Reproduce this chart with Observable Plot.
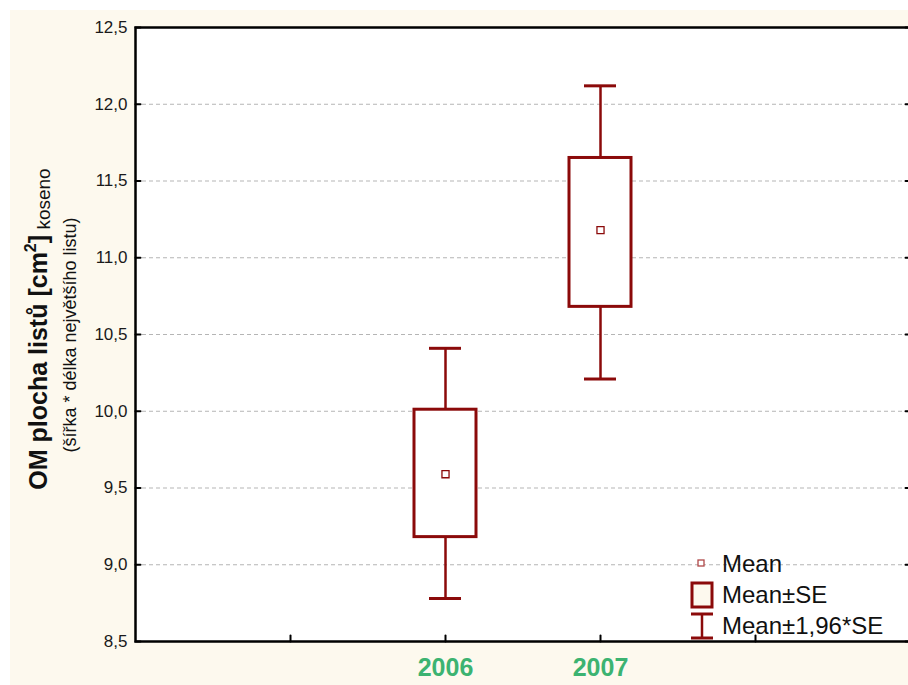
<!DOCTYPE html>
<html>
<head>
<meta charset="utf-8">
<script src="https://cdn.jsdelivr.net/npm/d3@7"></script>
<script src="https://cdn.jsdelivr.net/npm/@observablehq/plot@0.6"></script>
<style>
  html, body { margin: 0; padding: 0; background: #ffffff; overflow: hidden; }
  #chart { position: absolute; left: 0; top: 0; }
  #chart svg { max-width: none !important; }
</style>
</head>
<body>
<div id="chart"></div>
<script>
// ---- data ----
const years  = ["2006", "2007"];
const means  = [9.59, 11.18];
const seLow  = [9.18, 10.68];
const seHigh = [10.01, 11.65];
const ciLow  = [8.78, 10.21];
const ciHigh = [10.41, 12.12];
const xSlots = ["·a", "2006", "2007", "·b"];           // category slots on the x axis
const yTicks = [8.5, 9.0, 9.5, 10.0, 10.5, 11.0, 11.5, 12.0, 12.5];
const yGrid  = [9.0, 9.5, 10.0, 10.5, 11.0, 11.5, 12.0];
const legendLabels = ["Mean", "Mean±SE", "Mean±1,96*SE"];
const yTitle = "OM plocha listů [cm";
const yTitleSup = "2";
const yTitleTail = "koseno";
const ySubTitle = "(šířka * délka největšího listu)";

const data = years.map((y, i) => ({year: y, mean: means[i], seLow: seLow[i], seHigh: seHigh[i], ciLow: ciLow[i], ciHigh: ciHigh[i]}));

const RED = "#8b0a0a";
const CREAM = "#fdf9ee";
const GREEN = "#3cb371";
const tickShape = {draw(ctx, l) { ctx.moveTo(0, 0); ctx.lineTo(0, -l); }};
const fmt = d => d.toFixed(1).replace(".", ",");

const chart = Plot.plot({
  width: 912,
  height: 685,
  marginLeft: 135,
  marginRight: 2,
  marginTop: 27,
  marginBottom: 44,
  style: {background: "transparent", fontFamily: "'Liberation Sans', Arial, sans-serif", color: "#1a1a1a", overflow: "visible", maxWidth: "none"},
  x: {type: "band", domain: xSlots, range: [135, 910], paddingInner: 0.6, paddingOuter: 0.8, align: 0.5},
  y: {domain: [8.5, 12.5], range: [641, 27]},
  marks: [
    Plot.frame({fill: "white"}),
    Plot.gridY(yGrid, {stroke: "#b5b5b5", strokeOpacity: 1, strokeWidth: 1, strokeDasharray: "4,3"}),
    Plot.axisY({ticks: yTicks, tickFormat: fmt, tickSize: 0, tickPadding: 8, fontSize: 17, label: null}),
    Plot.axisX({ticks: years, tickFormat: d => d, tickSize: 0, tickPadding: 17, fontSize: 25, fontWeight: "bold", fill: GREEN, label: null}),
    Plot.vector(yTicks, {y: d => d, frameAnchor: "left", rotate: 90, length: 5, anchor: "start", shape: tickShape, stroke: "black", strokeWidth: 2}),
    Plot.vector(yTicks, {y: d => d, frameAnchor: "right", rotate: -90, length: 5, anchor: "start", shape: tickShape, stroke: "black", strokeWidth: 2}),
    Plot.vector(xSlots, {x: d => d, frameAnchor: "bottom", rotate: 0, length: 6, anchor: "start", shape: tickShape, stroke: "black", strokeWidth: 2}),
    Plot.ruleX(data, {x: "year", y1: "ciHigh", y2: "seHigh", stroke: RED, strokeWidth: 2.5}),
    Plot.ruleX(data, {x: "year", y1: "ciLow", y2: "seLow", stroke: RED, strokeWidth: 2.5}),
    Plot.tickY(data, {x: "year", y: "ciHigh", stroke: RED, strokeWidth: 3, inset: 15}),
    Plot.tickY(data, {x: "year", y: "ciLow", stroke: RED, strokeWidth: 3, inset: 15}),
    Plot.barY(data, {x: "year", y1: "seLow", y2: "seHigh", fill: "white", stroke: RED, strokeWidth: 3}),
    Plot.dot(data, {x: "year", y: "mean", symbol: "square", r: 4, stroke: RED, fill: "white", strokeWidth: 1.3}),
    Plot.frame({stroke: "black", strokeWidth: 2.5})
  ]
});

chart.style.maxWidth = "none";
document.getElementById("chart").appendChild(chart);

// ---- decorations: cream page background, rotated y title, legend ----
const svg = d3.select(chart);
svg.insert("rect", ":first-child")
  .attr("x", 10).attr("y", 10).attr("width", 902).attr("height", 675)
  .attr("fill", CREAM);

const FONT = "'Liberation Sans', Arial, sans-serif";
const title = svg.append("text")
  .attr("transform", "translate(47,329) rotate(-90)")
  .attr("text-anchor", "middle")
  .attr("fill", "#111")
  .style("font-family", FONT);
title.append("tspan").attr("font-size", 25).attr("font-weight", "bold").text(yTitle);
title.append("tspan").attr("font-size", 16).attr("font-weight", "bold").attr("dy", -11).text(yTitleSup);
title.append("tspan").attr("font-size", 25).attr("font-weight", "bold").attr("dy", 11).text("]");
title.append("tspan").attr("font-size", 19).attr("dy", 3).text(" " + yTitleTail);

svg.append("text")
  .attr("transform", "translate(76,335) rotate(-90)")
  .attr("text-anchor", "middle")
  .attr("font-size", 18)
  .attr("fill", "#111")
  .style("font-family", FONT)
  .text(ySubTitle);

// legend
const lg = svg.append("g").style("font-family", FONT).attr("text-anchor", "start");
lg.append("rect").attr("x", 698).attr("y", 560).attr("width", 6).attr("height", 6)
  .attr("fill", "white").attr("stroke", "#b04848").attr("stroke-width", 1.3);
lg.append("rect").attr("x", 692).attr("y", 583).attr("width", 20).attr("height", 24)
  .attr("fill", CREAM).attr("stroke", RED).attr("stroke-width", 3);
lg.append("line").attr("x1", 702).attr("x2", 702).attr("y1", 614).attr("y2", 638).attr("stroke", RED).attr("stroke-width", 2.5);
lg.append("line").attr("x1", 691).attr("x2", 713).attr("y1", 614).attr("y2", 614).attr("stroke", RED).attr("stroke-width", 3);
lg.append("line").attr("x1", 691).attr("x2", 713).attr("y1", 638).attr("y2", 638).attr("stroke", RED).attr("stroke-width", 3);
const baselines = [572, 603, 634];
legendLabels.forEach((t, i) => {
  lg.append("text").attr("x", 722).attr("y", baselines[i]).attr("font-size", 24)
    .attr("text-anchor", "start").attr("fill", "#111").text(t);
});
</script>
</body>
</html>
